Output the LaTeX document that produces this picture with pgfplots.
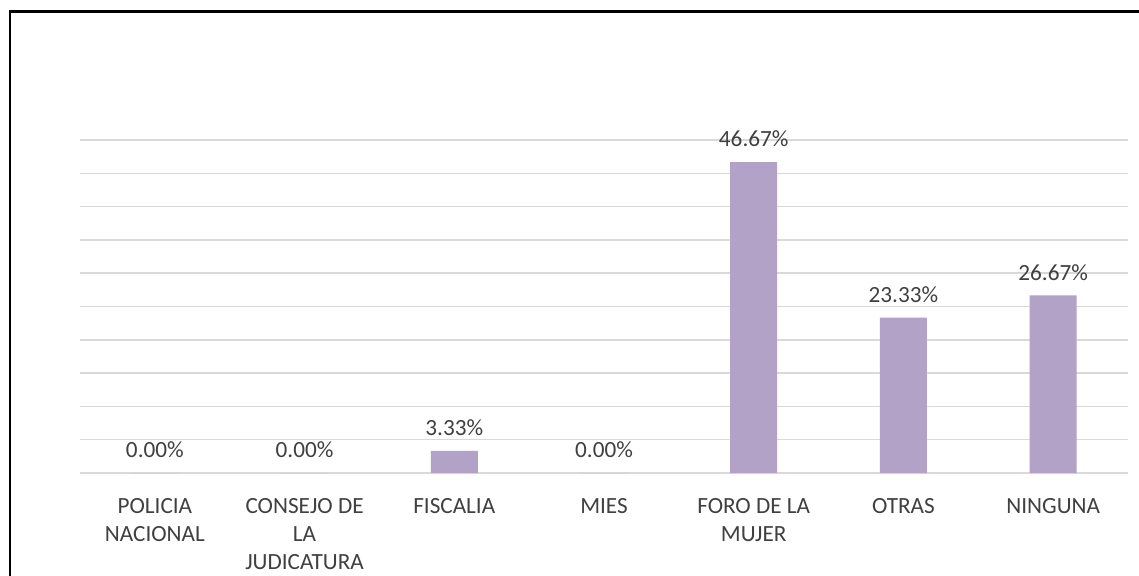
\documentclass[border=0pt]{standalone}
\usepackage{pgfplots}
\pgfplotsset{compat=1.18}
\usepackage{fontspec}
\setmainfont{Carlito}

\definecolor{barlila}{HTML}{B3A2C7}
\definecolor{gridgris}{HTML}{D9D9D9}
\definecolor{textgris}{HTML}{404040}

\begin{document}
\begin{tikzpicture}
  % picture is 1139x575 px, 1 px = 0.5pt
  \useasboundingbox (0,0) rectangle (569.5pt,287.5pt);
  \fill[white] (0,0) rectangle (569.5pt,287.5pt);
  \draw[black, line width=1.1pt] (5pt,-5pt) -- (5pt,281.8pt) -- (575pt,281.8pt);

  \begin{axis}[
      at={(40pt,51pt)}, anchor=south west,
      scale only axis,
      width=524pt, height=166.5pt,
      ybar, bar width=23.5pt,
      xmin=-0.5, xmax=6.5,
      ymin=0, ymax=50,
      ytick={0,5,...,50},
      yticklabels={},
      ymajorgrids=true,
      grid style={gridgris, line width=0.75pt},
      axis line style={draw=none},
      major tick length=0pt,
      xtick=data,
      xticklabels={POLICIA\\NACIONAL, CONSEJO DE\\LA\\JUDICATURA, FISCALIA, MIES, FORO DE LA\\MUJER, OTRAS, NINGUNA},
      xticklabel style={align=center, text=textgris, font=\fontsize{11.6}{14}\selectfont, yshift=-9pt},
      /pgf/number format/assume math mode=true,
      nodes near coords={\pgfmathprintnumber[fixed,zerofill,precision=2]{\pgfplotspointmeta}\%},
      every node near coord/.append style={text=textgris, font=\fontsize{11.6}{14}\selectfont, yshift=4pt},
      clip=false,
    ]
    \addplot[fill=barlila, draw=none] coordinates {
      (0,0) (1,0) (2,3.33) (3,0) (4,46.67) (5,23.33) (6,26.67)
    };
  \end{axis}
\end{tikzpicture}
\end{document}
